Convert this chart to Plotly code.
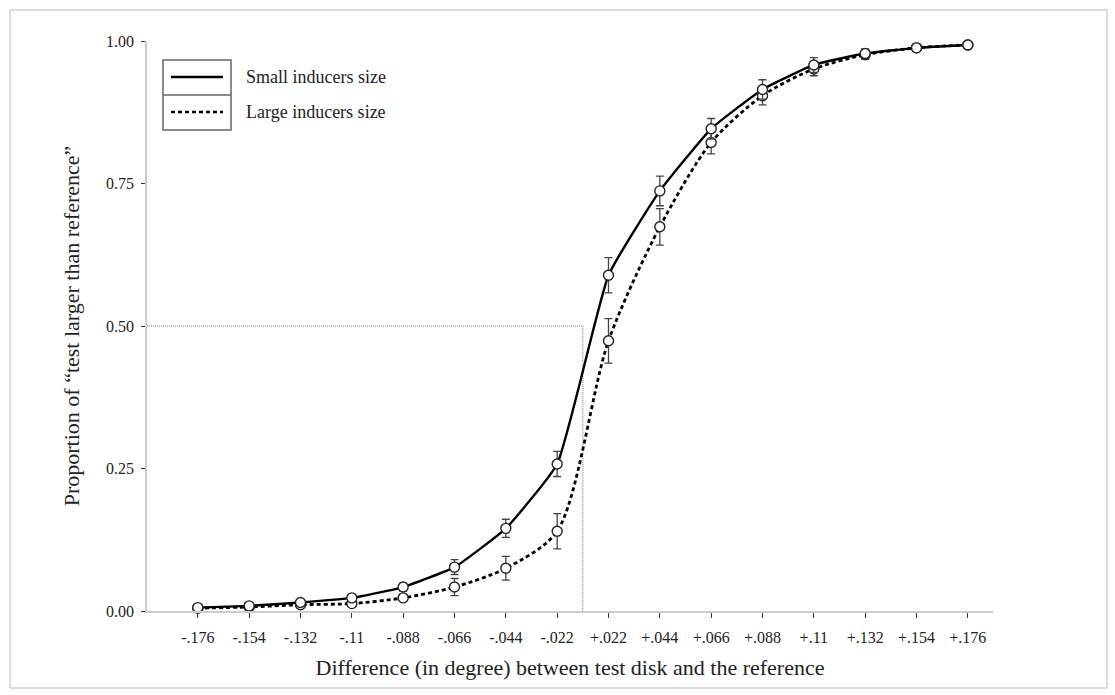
import plotly.graph_objects as go

x_labels = ['-.176', '-.154', '-.132', '-.11', '-.088', '-.066', '-.044', '-.022',
            '+.022', '+.044', '+.066', '+.088', '+.11', '+.132', '+.154', '+.176']
small = [0.006, 0.009, 0.015, 0.023, 0.042, 0.077, 0.145, 0.258,
         0.589, 0.737, 0.846, 0.915, 0.958, 0.978, 0.988, 0.993]
large = [0.005, 0.007, 0.011, 0.013, 0.023, 0.042, 0.075, 0.140,
         0.474, 0.674, 0.822, 0.904, 0.951, 0.976, 0.988, 0.993]
small_err = [0.003, 0.003, 0.004, 0.005, 0.007, 0.013, 0.016, 0.022,
             0.031, 0.026, 0.018, 0.017, 0.013, 0.008, 0.006, 0.004]
large_err = [0.003, 0.003, 0.004, 0.005, 0.006, 0.015, 0.021, 0.031,
             0.039, 0.032, 0.020, 0.016, 0.012, 0.008, 0.006, 0.004]
y_ticks = [0.0, 0.25, 0.5, 0.75, 1.0]
y_ticktext = ['0.00', '0.25', '0.50', '0.75', '1.00']
legend_names = ['Small inducers size', 'Large inducers size']

xs = list(range(len(x_labels)))
x_zero = (xs[7] + xs[8]) / 2  # zero difference, between -.022 and +.022

FONT = '"Liberation Serif", "DejaVu Serif", serif'
W, H = 1115, 695
ML, MR, MT, MB = 147, 122, 41, 84
PW, PH = W - ML - MR, H - MT - MB

def px(xp, yp):
    """pixel position -> paper (plot-area) fraction"""
    return (xp - ML) / PW, (H - MB - yp) / PH

fig = go.Figure()

# reference lines (0.5 proportion, zero difference)
fig.add_trace(go.Scatter(x=[-0.99, x_zero, x_zero], y=[0.5, 0.5, 0.0], mode='lines',
                         line=dict(color='#777777', width=1, dash='1px,1px'),
                         showlegend=False, hoverinfo='skip'))

fig.add_trace(go.Scatter(x=xs, y=large, mode='lines', line_shape='spline',
                         line=dict(color='black', width=2.8, dash='4px,3px', smoothing=0.8),
                         showlegend=False))
fig.add_trace(go.Scatter(x=xs, y=small, mode='lines', line_shape='spline',
                         line=dict(color='black', width=2.4, smoothing=0.4),
                         showlegend=False))

for vals, errs in ((large, large_err), (small, small_err)):
    fig.add_trace(go.Scatter(
        x=xs, y=vals, mode='markers',
        marker=dict(symbol='circle', size=10, color='white',
                    line=dict(color='#222222', width=1.4)),
        error_y=dict(type='data', array=errs, visible=True, color='#444444',
                     thickness=1.3, width=4),
        showlegend=False, cliponaxis=False))

shapes = []
# outer frame
fx0, fy0 = px(10, 10)
fx1, fy1 = px(1107, 688)
shapes.append(dict(type='rect', xref='paper', yref='paper', x0=fx0, x1=fx1, y0=fy1, y1=fy0,
                   line=dict(color='#bbbbbb', width=1), layer='below'))

# legend drawn as a boxed key
bx0, by0 = px(163, 60)
bx1, by1 = px(231, 130)
_, bym = px(0, 95)
shapes.append(dict(type='rect', xref='paper', yref='paper', x0=bx0, x1=bx1, y0=by1, y1=by0,
                   line=dict(color='#666666', width=1.5)))
shapes.append(dict(type='line', xref='paper', yref='paper', x0=bx0, x1=bx1, y0=bym, y1=bym,
                   line=dict(color='#666666', width=1.5)))
lx0, ly1 = px(171, 77)
lx1, ly2 = px(223, 112)
shapes.append(dict(type='line', xref='paper', yref='paper', x0=lx0, x1=lx1, y0=ly1, y1=ly1,
                   line=dict(color='black', width=2.4)))
shapes.append(dict(type='line', xref='paper', yref='paper', x0=lx0, x1=lx1, y0=ly2, y1=ly2,
                   line=dict(color='black', width=2.4, dash='4px,3px')))

tx, _ = px(244, 0)
annotations = [
    dict(x=tx, y=ly1, xref='paper', yref='paper', text=legend_names[0], showarrow=False,
         xanchor='left', yanchor='middle', font=dict(family=FONT, size=18, color='#222222')),
    dict(x=tx, y=ly2, xref='paper', yref='paper', text=legend_names[1], showarrow=False,
         xanchor='left', yanchor='middle', font=dict(family=FONT, size=18, color='#222222')),
]

fig.update_layout(
    width=W, height=H,
    margin=dict(l=ML, r=MR, t=MT, b=MB, pad=0),
    paper_bgcolor='white', plot_bgcolor='white',
    font=dict(family=FONT, color='#222222'),
    shapes=shapes, annotations=annotations,
    showlegend=False,
    xaxis=dict(range=[-0.99, 15.49], tickmode='array', tickvals=xs, ticktext=x_labels,
               showgrid=False, zeroline=False, showline=True, linecolor='#cccccc', linewidth=2,
               ticks='outside', ticklen=5, tickwidth=1, tickcolor='#333333',
               ticklabelstandoff=6,
               tickfont=dict(family=FONT, size=16, color='#222222'),
               title=dict(text='Difference (in degree) between test disk and the reference',
                          font=dict(family=FONT, size=22, color='#222222'), standoff=14)),
    yaxis=dict(range=[0, 1], tickmode='array', tickvals=y_ticks, ticktext=y_ticktext,
               showgrid=False, zeroline=False, showline=True, linecolor='#cccccc', linewidth=1.5,
               ticks='outside', ticklen=4, tickwidth=1, tickcolor='#333333',
               ticklabelstandoff=4,
               tickfont=dict(family=FONT, size=16, color='#222222'),
               title=dict(text='Proportion of \u201ctest larger than reference\u201d',
                          font=dict(family=FONT, size=22, color='#222222'), standoff=20)),
)

fig.write_html('out.html')
